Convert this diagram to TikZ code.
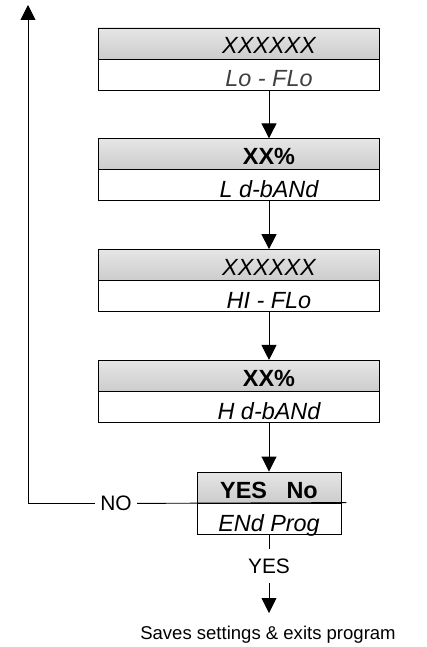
\documentclass[tikz,border=0pt]{standalone}
\usepackage{fontspec}
\setmainfont{Liberation Sans}
\usetikzlibrary{arrows.meta,positioning,calc}

\begin{document}
\begin{tikzpicture}[x=1bp,y=-1bp,line width=0.9bp,
  hdr/.style={draw,minimum width=281bp,minimum height=31bp,inner sep=0pt,top color=gray!20,middle color=white,bottom color=gray!40},
  row/.style={draw,minimum width=281bp,minimum height=31bp,inner sep=0pt},
  big/.style={font=\fontsize{23.5}{26}\selectfont,inner sep=0pt,anchor=base},
  lbl/.style={font=\fontsize{21}{24}\selectfont},
  arr/.style={-{Triangle[length=15bp,width=15bp]}}]
\useasboundingbox (0,0) rectangle (426,647);
\foreach \i/\t/\a/\b in {1/28/{\itshape XXXXXX}/{\itshape\color{black!75}Lo - FLo},
    2/138.8/{\bfseries XX\%}/{\itshape L d-bANd},
    3/249.6/{\itshape XXXXXX}/{\itshape HI - FLo},
    4/360.4/{\bfseries XX\%}/{\itshape H d-bANd}} {
  \node[hdr] (h\i) at (238.5,{\t+15.5}) {};
  \node[row] (r\i) at (238.5,{\t+46.5}) {};
  \node[big] (th\i) at (269,{\t+26}) {\a};
  \node[big] (tr\i) at (269,{\t+59}) {\b};
}
\foreach \i/\j in {1/2,2/3,3/4}
  \draw[arr] (r\i.south -| th\i) -- (h\j.north -| th\i);

\node[hdr,minimum width=144bp] (yh) at (269,487.5) {};
\node[row,minimum width=144bp] (yr) at (269,518.5) {};
\node[big] (yht) at (269,498) {\bfseries YES\ \ \ No};
\node[big] (yrt) at (269,531) {\itshape ENd Prog};
\draw[arr] (r4.south -| th4) -- (yh.north);

\node[lbl,inner ysep=9.5bp] (yes) at (269,566) {YES};
\coordinate (done) at (269,613);
\draw (yr.south) -- (yes);
\draw[arr] (yes) -- (done);
\node[font=\fontsize{18.6}{22}\selectfont,anchor=base] (save) at (268,639) {Saves settings \& exits program};

\node[lbl,inner xsep=5bp] (no) at (116,503.5) {NO};
\coordinate (ye) at ([xshift=5bp]yr.north east);
\coordinate (ret) at (28,5);
\draw (ye) -- (no);
\draw[arr] (no) -| (ret);
\end{tikzpicture}
\end{document}
